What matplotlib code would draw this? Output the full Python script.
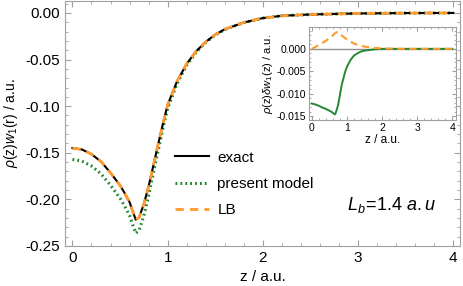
import matplotlib
matplotlib.use("Agg")
from matplotlib import pyplot as plt
from matplotlib.ticker import MultipleLocator, FormatStrFormatter

plt.rcParams['font.family'] = ['Liberation Sans', 'DejaVu Sans']
plt.rcParams['mathtext.fontset'] = 'custom'
plt.rcParams['mathtext.rm'] = 'Liberation Sans'
plt.rcParams['mathtext.it'] = 'Liberation Sans:italic'
plt.rcParams['mathtext.bf'] = 'Liberation Sans:bold'

# main panel data
z = [0.00, 0.10, 0.20, 0.30, 0.40, 0.50, 0.55, 0.60, 0.63, 0.665, 0.70, 0.75, 0.80,
     0.85, 0.90, 0.95, 1.00, 1.10, 1.20, 1.30, 1.40, 1.50, 1.60, 1.80, 2.00, 2.20,
     2.50, 3.00, 3.50, 4.00]
exact = [-0.1450, -0.1465, -0.1515, -0.1595, -0.1715, -0.1850, -0.1935, -0.2030,
         -0.2120, -0.2218, -0.2195, -0.2050, -0.1860, -0.1635, -0.1410, -0.1190,
         -0.0985, -0.0730, -0.0545, -0.0410, -0.0310, -0.0232, -0.0175, -0.0102,
         -0.0055, -0.0030, -0.0016, -0.0005, -0.0001, 0.0000]
present = [-0.1572, -0.1589, -0.1642, -0.1726, -0.1849, -0.1988, -0.2075, -0.2173,
           -0.2265, -0.2364, -0.2333, -0.2175, -0.1963, -0.1716, -0.1476, -0.1241,
           -0.1025, -0.0755, -0.0560, -0.0420, -0.0316, -0.0236, -0.0178, -0.0103,
           -0.0055, -0.0030, -0.0016, -0.0005, -0.0001, 0.0000]
lb = [-0.1450, -0.1465, -0.1515, -0.1595, -0.1715, -0.1850, -0.1935, -0.2030,
      -0.2120, -0.2218, -0.2195, -0.2050, -0.1860, -0.1635, -0.1410, -0.1190,
      -0.0985, -0.0730, -0.0545, -0.0410, -0.0310, -0.0232, -0.0175, -0.0102,
      -0.0055, -0.0030, -0.0016, -0.0005, -0.0001, 0.0000]

# inset data: rho(z) delta w1(z)
d_present = [-0.0122, -0.0124, -0.0127, -0.0131, -0.0134, -0.0138, -0.0140, -0.0143,
             -0.0145, -0.0146, -0.0138, -0.0125, -0.0103, -0.0081, -0.0066, -0.0051,
             -0.0040, -0.0025, -0.0015, -0.0010, -0.0006, -0.0004, -0.0003, -0.0001,
             0.0000, 0.0000, 0.0000, 0.0000, 0.0000, 0.0000]
d_lb = [0.0000, 0.0004, 0.0009, 0.0013, 0.0018, 0.0024, 0.0027, 0.0030, 0.0033,
        0.0035, 0.0037, 0.0037, 0.0034, 0.0030, 0.0027, 0.0024, 0.0021, 0.0016,
        0.0012, 0.0009, 0.0007, 0.0005, 0.0004, 0.0002, 0.0001, 0.00005, 0.0000,
        0.0000, 0.0000, 0.0000]

green = '#24892f'
orange = '#ff9a2e'
frame = '#a0a0a0'

fig = plt.figure(figsize=(4.63, 2.86), dpi=100)
ax = fig.add_axes([0.140, 0.140, 0.8535, 0.857])

ax.plot(z, present, color=green, lw=2.2, ls=(0, (0.6, 1.0)), label='present model', zorder=2)
ax.plot(z, exact, color='black', lw=1.5, label='exact', zorder=3)
ax.plot(z, lb, color=orange, lw=2.0, ls=(0, (3, 2.2)), label='LB', zorder=4)

ax.set_xlim(-0.08, 4.07)
ax.set_ylim(-0.25, 0.013)
ax.xaxis.set_major_locator(MultipleLocator(1))
ax.xaxis.set_minor_locator(MultipleLocator(0.2))
ax.yaxis.set_major_locator(MultipleLocator(0.05))
ax.yaxis.set_minor_locator(MultipleLocator(0.01))
ax.yaxis.set_major_formatter(FormatStrFormatter('%.2f'))
ax.tick_params(which='both', direction='in', top=True, right=True, color=frame,
               labelsize=11)
ax.tick_params(which='major', length=4)
ax.tick_params(which='minor', length=2.2)
for s in ax.spines.values():
    s.set_color(frame)
ax.set_xlabel('z / a.u.', fontsize=11, labelpad=4)
ax.set_ylabel(r'$\rho$(z)$w_1$(r) / a.u.', fontsize=10, labelpad=4)

h, l = ax.get_legend_handles_labels()
order = [1, 0, 2]
ax.legend([h[i] for i in order], [l[i] for i in order], loc='upper left',
          bbox_to_anchor=(0.245, 0.445), frameon=False, fontsize=11,
          handlelength=2.2, handletextpad=0.55, labelspacing=0.8)

ax.text(0.714, 0.147, r'$L_b\!=\!$1.4 $a.u$', transform=ax.transAxes, fontsize=13,
        color='black', va='baseline')

# inset
ins = fig.add_axes([0.667, 0.580, 0.318, 0.326])
ins.axhline(0, color='#909090', lw=1.0, zorder=1)
ins.plot(z, d_present, color=green, lw=1.4, zorder=2)
ins.plot(z, d_lb, color=orange, lw=1.5, ls=(0, (3.5, 2.2)), zorder=3)
ins.set_xlim(-0.086, 4.11)
ins.set_ylim(-0.0159, 0.0049)
ins.xaxis.set_major_locator(MultipleLocator(1))
ins.xaxis.set_minor_locator(MultipleLocator(0.2))
ins.yaxis.set_major_locator(MultipleLocator(0.005))
ins.yaxis.set_minor_locator(MultipleLocator(0.001))
ins.yaxis.set_major_formatter(FormatStrFormatter('%.3f'))
ins.tick_params(which='both', direction='in', top=True, right=True, color=frame,
                labelsize=7.5, pad=2)
ins.tick_params(which='major', length=3)
ins.tick_params(which='minor', length=1.5)
for s in ins.spines.values():
    s.set_color(frame)
ins.set_xlabel('z / a.u.', fontsize=8.5, labelpad=1)
ins.set_ylabel(r'$\rho$(z)$\delta w_1$(z) / a.u.', fontsize=8, labelpad=1)

fig.savefig('out.png', dpi=100)
